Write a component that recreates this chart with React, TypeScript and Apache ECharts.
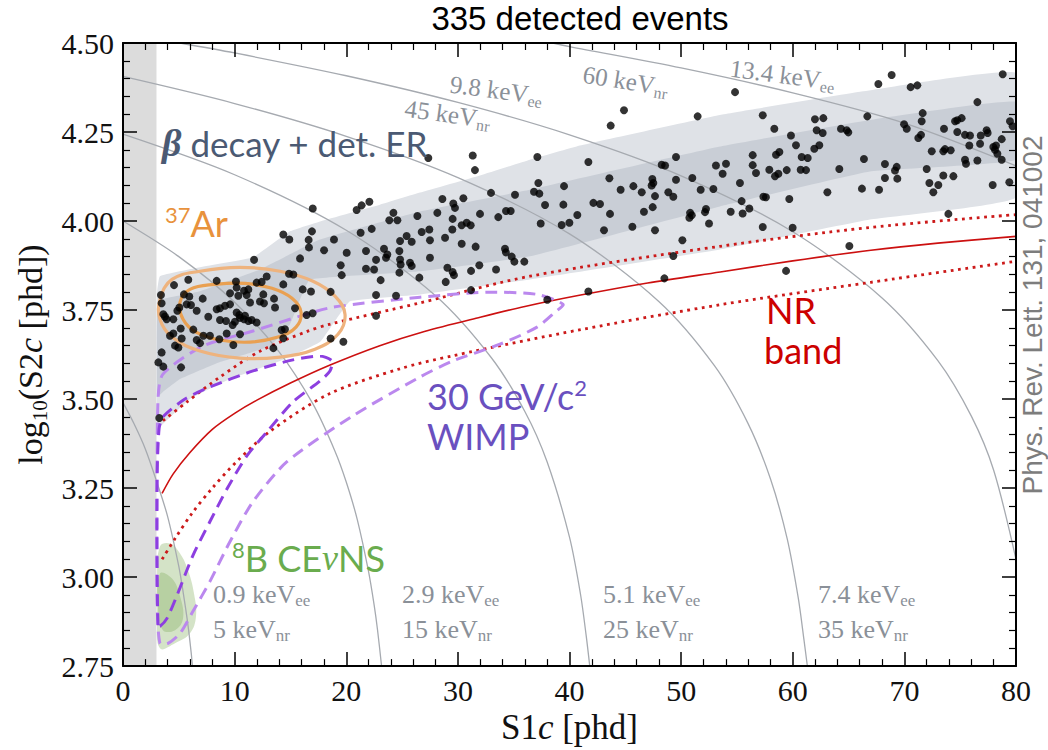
import React, { useEffect, useRef } from 'react';
import * as echarts from 'echarts';

// ---------- axes ----------
const X_MIN = 0, X_MAX = 80, X_STEP = 10;
const Y_MIN = 2.75, Y_MAX = 4.5, Y_STEP = 0.25;
const S1_THRESHOLD = 3;

// ---------- detected events (S1c, log10 S2c) ----------
const events: number[][] = [
  [14.90,3.948],[16.63,3.947],[16.66,3.926],[11.74,3.891],[15.86,3.895],[14.87,3.852],[15.26,3.850],[5.85,3.835],[8.39,3.832],[4.57,3.820],
  [10.12,3.830],[12.87,3.844],[11.97,3.827],[12.42,3.829],[14.36,3.822],[10.18,3.813],[16.10,3.808],[16.84,3.802],[3.40,3.792],[5.46,3.794],
  [9.59,3.797],[10.84,3.804],[11.23,3.808],[10.33,3.790],[11.08,3.792],[12.57,3.794],[13.53,3.782],[5.94,3.788],[3.46,3.769],[5.70,3.766],
  [6.09,3.764],[7.14,3.782],[12.27,3.774],[12.63,3.769],[11.38,3.771],[9.59,3.766],[9.14,3.762],[8.69,3.755],[8.39,3.752],[13.62,3.757],
  [15.41,3.755],[16.99,3.741],[16.45,3.736],[5.05,3.757],[4.87,3.748],[6.60,3.748],[3.61,3.738],[3.76,3.732],[10.18,3.743],[10.42,3.736],
  [7.64,3.731],[3.91,3.724],[4.51,3.724],[8.69,3.722],[9.23,3.719],[10.03,3.717],[9.82,3.708],[10.84,3.724],[11.23,3.719],[11.53,3.722],
  [11.97,3.715],[10.48,3.728],[10.93,3.734],[6.30,3.695],[5.17,3.698],[7.20,3.678],[7.79,3.678],[9.29,3.684],[10.48,3.682],[8.63,3.668],
  [4.21,3.678],[4.51,3.684],[5.26,3.670],[6.60,3.666],[6.90,3.657],[9.88,3.652],[4.66,3.650],[4.96,3.645],[14.21,3.694],[14.51,3.696],
  [14.36,3.671],[13.47,3.643],[3.46,3.631],[3.17,3.603],[3.61,3.591],[5.20,3.589],[3.25,3.447],[17.0,4.035],[16.93,3.971],[14.36,3.962],
  [31.53,4.143],[32.97,4.079],[35.12,4.074],[28.61,4.062],[29.59,4.049],[30.49,4.064],[29.74,4.037],[21.38,4.044],[20.93,4.031],[22.07,4.054],
  [24.22,4.023],[23.86,4.002],[24.58,4.002],[26.37,4.014],[28.16,4.023],[29.53,4.006],[31.98,4.020],[33.62,4.011],[34.31,4.028],[34.73,4.028],
  [21.29,3.967],[22.28,3.978],[18.90,3.948],[24.82,3.944],[25.41,3.958],[25.86,3.942],[26.76,3.969],[27.44,3.976],[27.50,3.946],[28.85,3.953],
  [29.50,3.976],[30.34,3.988],[30.79,3.995],[31.15,3.988],[30.34,3.936],[31.59,3.928],[18.01,3.918],[20.04,3.911],[21.77,3.916],[23.38,3.922],
  [23.68,3.906],[23.56,3.897],[24.76,3.916],[24.82,3.892],[24.87,3.878],[25.71,3.883],[25.86,3.874],[22.67,3.891],[21.77,3.866],[22.49,3.864],
  [19.50,3.876],[19.59,3.848],[24.76,3.855],[27.50,3.897],[34.22,3.922],[34.30,3.912],[34.82,3.900],[35.06,3.886],[29.06,3.869],[29.53,3.857],
  [29.65,3.848],[31.18,3.860],[31.92,3.876],[33.42,3.864],[26.55,3.841],[23.08,3.834],[28.91,3.829],[31.18,3.806],[22.67,3.792],[24.46,3.790],
  [18.60,3.801],[22.67,3.734],[18.60,3.670],[19.74,3.661],[27.35,4.177],[31.33,4.184],
  [44.88,4.311],[43.69,4.268],[51.48,4.294],[37.12,4.180],[41.69,4.166],[49.54,4.180],[48.26,4.158],[48.56,4.156],[53.12,4.156],[43.57,4.120],
  [37.21,4.107],[36.82,4.082],[37.30,4.077],[39.51,4.098],[44.58,4.088],[45.72,4.098],[46.47,4.081],[47.42,4.118],[47.51,4.107],[47.36,4.100],
  [49.54,4.116],[51.00,4.121],[48.85,4.081],[49.30,4.068],[51.75,4.088],[52.89,4.090],[47.66,4.070],[37.81,4.045],[39.45,4.046],[42.14,4.051],
  [42.73,4.048],[40.70,4.017],[39.99,3.995],[39.30,3.989],[37.42,3.993],[43.63,4.020],[46.67,4.026],[47.45,4.039],[50.80,4.023],[50.95,4.016],
  [50.74,4.009],[52.23,4.034],[52.14,4.025],[52.50,3.993],[45.63,3.984],[43.09,3.974],[47.66,3.974],[50.11,3.946],[49.30,3.902],[35.95,3.886],
  [48.50,3.839],[41.69,3.802],[38.01,3.779],
  [54.83,4.362],[57.31,4.297],[58.35,4.259],[61.99,4.286],[62.74,4.289],[62.14,4.255],[62.68,4.247],[64.32,4.259],[64.83,4.255],[64.98,4.249],
  [59.84,4.240],[60.29,4.213],[61.93,4.203],[62.38,4.213],[56.41,4.185],[58.50,4.186],[58.80,4.194],[60.80,4.180],[61.34,4.177],[54.02,4.161],
  [53.72,4.133],[56.41,4.157],[56.71,4.135],[57.90,4.144],[58.41,4.126],[58.71,4.133],[59.46,4.143],[60.71,4.144],[61.19,4.143],[64.17,4.146],
  [55.27,4.107],[57.37,4.068],[57.60,4.067],[59.69,4.062],[63.10,4.081],[55.42,4.056],[54.44,4.026],[55.51,4.021],[56.11,4.035],[57.31,3.983],
  [59.99,3.981],[65.07,3.930],[59.40,3.860],
  [68.86,4.410],[67.67,4.385],[70.56,4.376],[71.16,4.381],[78.81,4.412],[76.54,4.334],[66.68,4.294],[71.64,4.303],[71.55,4.280],[69.97,4.272],
  [70.21,4.259],[74.54,4.280],[74.74,4.283],[75.13,4.289],[73.55,4.259],[74.74,4.250],[75.43,4.242],[75.88,4.240],[77.37,4.255],[77.46,4.247],
  [76.84,4.240],[79.46,4.280],[79.70,4.266],[71.25,4.233],[71.49,4.242],[78.72,4.230],[72.45,4.196],[73.49,4.196],[73.64,4.202],[74.15,4.199],
  [75.82,4.212],[76.78,4.217],[77.97,4.208],[78.12,4.200],[78.33,4.189],[78.21,4.212],[66.38,4.174],[68.26,4.160],[69.31,4.152],[69.16,4.142],
  [72.00,4.146],[75.43,4.172],[75.52,4.161],[76.54,4.170],[78.72,4.172],[68.26,4.121],[69.37,4.119],[73.49,4.128],[74.39,4.126],[72.24,4.107],
  [73.04,4.101],[72.59,4.081],[66.20,4.091],[67.73,4.088],[77.91,4.101],[79.40,4.109],[73.94,4.020],
];

// ---------- ER band (beta decay + detector ER) ----------
const erOuterUpper = [[3.05,3.80],[3.31,3.845],[6.9,3.87],[11.65,3.898],[14.96,3.971],[17.65,3.999],[23.02,4.046],[26.61,4.08],[31.98,4.128],[36.46,4.172],[40.94,4.212],[53.48,4.298],[66.03,4.363],[80,4.416]];
const erOuterLower = [[3.05,3.416],[3.58,3.43],[6.0,3.50],[9.59,3.556],[14.07,3.607],[17.65,3.66],[18.99,3.719],[20.34,3.775],[26.61,3.794],[36.46,3.836],[53.48,3.92],[66.92,4.004],[80,4.066]];
const erInnerUpper = [[3.05,3.77],[3.31,3.78],[6.9,3.803],[12.27,3.864],[17.65,3.948],[26.61,4.027],[36.46,4.088],[53.48,4.209],[66.92,4.284],[80,4.335]];
const erInnerLower = [[3.05,3.506],[3.58,3.52],[5.11,3.556],[8.69,3.604],[13.17,3.649],[14.96,3.71],[15.86,3.78],[16.75,3.836],[26.61,3.859],[36.46,3.901],[53.48,4.041],[66.92,4.139],[80,4.172]];

// ---------- 37Ar contours ----------
const arOuter = [[3.31,3.78],[4.39,3.836],[6.9,3.859],[10.48,3.87],[14.07,3.859],[17.02,3.831],[18.99,3.789],[19.89,3.738],[19.26,3.682],[17.2,3.64],[14.07,3.618],[10.48,3.615],[6.9,3.635],[4.39,3.674],[3.31,3.724]];
const arInner = [[5.11,3.772],[6.0,3.808],[8.24,3.822],[10.93,3.825],[13.35,3.811],[15.14,3.783],[15.95,3.744],[15.5,3.702],[13.89,3.674],[11.38,3.66],[8.69,3.666],[6.54,3.688],[5.38,3.724]];

// ---------- 30 GeV WIMP contours ----------
const wimpInner = [[3.14,2.865],[3.05,3.052],[3.05,3.276],[3.23,3.416],[3.58,3.45],[5.55,3.50],[7.79,3.534],[11.65,3.579],[15.23,3.61],[17.65,3.621],[18.72,3.607],[18.54,3.579],[17.65,3.551],[15.23,3.492],[12.9,3.408],[11.11,3.341],[9.32,3.248],[7.79,3.156],[6.27,3.061],[4.84,2.949],[3.94,2.884],[3.31,2.862]];
const wimpOuter = [[3.31,2.814],[3.05,2.94],[3.05,3.22],[3.14,3.5],[3.58,3.57],[7.17,3.649],[11.65,3.691],[15.86,3.733],[18.81,3.758],[26.61,3.786],[32.61,3.8],[37.09,3.794],[39.42,3.766],[38.7,3.744],[37.09,3.702],[33.77,3.654],[29.56,3.607],[26.61,3.562],[20.6,3.453],[14.69,3.324],[11.65,3.212],[9.59,3.1],[7.79,2.988],[6.27,2.904],[5.11,2.842],[4.03,2.814]];

// ---------- 8B CEvNS ----------
const cevnsOuter = [[3.31,3.086],[4.21,3.094],[5.11,3.066],[5.82,3.019],[6.36,2.954],[6.54,2.89],[6.0,2.842],[4.66,2.814],[3.31,2.80],[3.05,2.884],[3.05,2.996]];
const cevnsInner = [[3.31,3.01],[4.39,2.996],[5.11,2.946],[5.38,2.884],[4.66,2.851],[3.58,2.851],[3.14,2.912]];

// ---------- NR band ----------
const nrMedian = [[3.5,3.235],[4.5,3.29],[6,3.35],[8,3.415],[10,3.46],[12,3.497],[15,3.545],[18.5,3.595],[23,3.65],[27,3.69],[32,3.73],[36,3.76],[41,3.792],[47,3.826],[53.5,3.857],[60,3.888],[67,3.918],[73,3.938],[80,3.957]];
const nrUpper = [[3.58,3.439],[5.73,3.492],[8.69,3.562],[12.3,3.635],[16.5,3.69],[18.5,3.71],[26.6,3.77],[36.46,3.845],[53.48,3.929],[66.92,3.982],[80,4.018]];
const nrLower = [[3.5,3.05],[4.7,3.11],[6.2,3.18],[8,3.25],[10.2,3.325],[13.2,3.41],[18.5,3.515],[24.8,3.585],[29.6,3.622],[41,3.695],[53.5,3.765],[67,3.828],[80,3.887]];

// ---------- energy contours ----------
const contourEe = ['0.9', '2.9', '5.1', '7.4', '9.8', '13.4'];
const contourNr = ['5', '15', '25', '35', '45', '60'];
const contourLines = [
  [[0,3.49],[1,3.43],[2,3.36],[3,3.27],[4,3.17],[5,3.03],[5.4,2.955],[5.8,2.87],[6.1,2.79],[6.25,2.74]],
  [[0,4.0],[5,3.90],[10,3.772],[14,3.632],[17,3.487],[19,3.353],[20,3.267],[21,3.16],[22,3.015],[22.5,2.921],[22.8,2.852],[23.2,2.74]],
  [[0,4.244],[10,4.13],[20,3.974],[28,3.79],[33,3.616],[36,3.465],[38,3.323],[40,3.112],[41,2.949],[41.5,2.834],[41.85,2.74]],
  [[0,4.406],[10,4.33],[20,4.238],[30,4.122],[40,3.964],[48,3.774],[53,3.593],[56,3.431],[58,3.276],[59.5,3.108],[60.5,2.94],[61,2.825],[61.35,2.74]],
  [[5.1,4.5],[10,4.472],[20,4.408],[30,4.333],[40,4.242],[50,4.127],[60,3.97],[68,3.784],[73,3.608],[76,3.452],[78,3.30],[80,3.05]],
  [[38.5,4.5],[40,4.49],[50,4.43],[60,4.36],[70,4.275],[80,4.155]],
];

const serif = "'Liberation Serif', 'Times New Roman', serif";
const sansT = "'Liberation Sans', Arial, sans-serif";
const lato = "Lato, 'Noto Sans', sans-serif";
const GREY = '#8a9098';

function polygonSeries(points: number[][], style: any, z: number, smooth = 0) {
  return {
    type: 'custom', coordinateSystem: 'cartesian2d', clip: true, silent: true, z,
    data: points, encode: { x: 0, y: 1 },
    renderItem: (params: any, api: any) => {
      if (params.dataIndex !== 0) return null;
      return { type: 'polygon', shape: { points: points.map((p) => api.coord(p)), smooth }, style };
    },
  };
}

function lineSeries(points: number[][], color: string, width: number, type: any, z: number, smooth: any = 0.3) {
  return {
    type: 'line', data: points, showSymbol: false, symbol: 'none', smooth, silent: true, clip: true, z,
    lineStyle: { color, width, type }, emphasis: { disabled: true },
  };
}

function keLabel(val: string, sub: string, x: number, y: number, rotation = 0, size = 26) {
  return {
    type: 'text', x, y, rotation, z: 60,
    style: {
      text: `{m|${val} keV}{s|${sub}}`,
      textAlign: 'left', textVerticalAlign: 'middle',
      rich: {
        m: { fontFamily: serif, fontSize: size, lineHeight: size + 4, fill: GREY, color: GREY },
        s: { fontFamily: serif, fontSize: Math.round(size * 0.65), lineHeight: Math.round(size * 0.65), verticalAlign: 'bottom', fill: GREY, color: GREY },
      },
    },
  };
}

function axisCommon(pos: string) {
  return {
    position: pos,
    axisLine: { show: true, onZero: false, lineStyle: { color: '#000', width: 2 } },
    axisTick: { show: true, inside: true, length: 14, lineStyle: { color: '#000', width: 1.5 } },
    minorTick: { show: true, splitNumber: 5, length: 7, lineStyle: { color: '#000', width: 1.2 } },
    splitLine: { show: false },
    minorSplitLine: { show: false },
    z: 30,
  };
}

export default function App() {
  const ref = useRef<HTMLDivElement>(null);
  useEffect(() => {
    const chart = echarts.init(ref.current!, null, { renderer: 'svg' });
    const series: any[] = [];
    series.push(polygonSeries([[X_MIN, Y_MIN], [S1_THRESHOLD, Y_MIN], [S1_THRESHOLD, Y_MAX], [X_MIN, Y_MAX]], { fill: '#dcdcdc' }, 1));
    series.push(polygonSeries([...erOuterUpper, ...[...erOuterLower].reverse()], { fill: '#dfe2e7' }, 2, 0.1));
    series.push(polygonSeries([...erInnerUpper, ...[...erInnerLower].reverse()], { fill: '#c9ced6' }, 3, 0.1));
    series.push(polygonSeries(cevnsOuter, { fill: '#cfe0c1', opacity: 0.9 }, 4, 0.4));
    series.push(polygonSeries(cevnsInner, { fill: '#afcb98', opacity: 0.8 }, 4, 0.4));
    contourLines.forEach((c) => series.push(lineSeries(c, '#a6aab0', 1.3, 'solid', 5, 0.3)));
    series.push(lineSeries(nrMedian, '#cc1010', 1.6, 'solid', 6, 0.3));
    series.push(lineSeries(nrUpper, '#cc1a1a', 2.8, [2.8, 4.6], 6, 0.3));
    series.push(lineSeries(nrLower, '#cc1a1a', 2.8, [2.8, 4.6], 6, 0.3));
    series.push(polygonSeries(wimpOuter, { fill: 'none', stroke: '#bb88ee', lineWidth: 3, lineDash: [12, 7] }, 7, 0.25));
    series.push(polygonSeries(wimpInner, { fill: 'none', stroke: '#8d3fe0', lineWidth: 3, lineDash: [12, 7] }, 8, 0.25));
    series.push(polygonSeries(arOuter, { fill: 'none', stroke: '#eeb37e', lineWidth: 3.2 }, 9, 0.4));
    series.push(polygonSeries(arInner, { fill: 'none', stroke: '#e9a052', lineWidth: 3.2 }, 9, 0.4));
    series.push({ type: 'scatter', data: events, symbolSize: 8, itemStyle: { color: '#000' }, z: 20, silent: true });

    const graphic: any[] = [
      { type: 'text', x: 580, y: 18, z: 60, style: { text: '335 detected events', fontFamily: sansT, fontSize: 33, fill: '#000', textAlign: 'center', textVerticalAlign: 'middle' } },
      { type: 'text', x: 1032, y: 315, rotation: Math.PI / 2, z: 60, style: { text: 'Phys. Rev. Lett. 131, 041002', fontFamily: sansT, fontSize: 28, fill: '#7d7d7d', textAlign: 'center', textVerticalAlign: 'middle' } },
      { type: 'text', x: 162, y: 143, z: 60, style: { text: '{b|β}{m| decay + det. ER}', textAlign: 'left', textVerticalAlign: 'middle',
        rich: { b: { fontFamily: serif, fontStyle: 'italic', fontWeight: 'bold', fontSize: 38, fill: '#4b5a73', color: '#4b5a73' }, m: { fontFamily: lato, fontSize: 35, fill: '#4b5a73', color: '#4b5a73' } } } },
      { type: 'text', x: 165, y: 223, z: 60, style: { text: '{s|37}{m|Ar}', textAlign: 'left', textVerticalAlign: 'middle',
        rich: { s: { fontFamily: lato, fontSize: 22, lineHeight: 22, verticalAlign: 'top', fill: '#e8923c', color: '#e8923c' }, m: { fontFamily: lato, fontSize: 36, lineHeight: 40, fill: '#e8923c', color: '#e8923c' } } } },
      { type: 'text', x: 766, y: 310, z: 60, style: { text: 'NR', fontFamily: lato, fontSize: 36, fill: '#cc0000', textAlign: 'left', textVerticalAlign: 'middle' } },
      { type: 'text', x: 764, y: 350, z: 60, style: { text: 'band', fontFamily: lato, fontSize: 36, fill: '#cc0000', textAlign: 'left', textVerticalAlign: 'middle' } },
      { type: 'text', x: 427, y: 396, z: 60, style: { text: '{m|30 GeV/c}{s|2}', textAlign: 'left', textVerticalAlign: 'middle',
        rich: { s: { fontFamily: lato, fontSize: 22, lineHeight: 22, verticalAlign: 'top', fill: '#6a50bf', color: '#6a50bf' }, m: { fontFamily: lato, fontSize: 36, lineHeight: 40, fill: '#6a50bf', color: '#6a50bf' } } } },
      { type: 'text', x: 427, y: 436, z: 60, style: { text: 'WIMP', fontFamily: lato, fontSize: 36, fill: '#6a50bf', textAlign: 'left', textVerticalAlign: 'middle' } },
      { type: 'text', x: 232, y: 558, z: 60, style: { text: '{s|8}{m|B CE}{n|ν}{m|NS}', textAlign: 'left', textVerticalAlign: 'middle',
        rich: { s: { fontFamily: lato, fontSize: 22, lineHeight: 22, verticalAlign: 'top', fill: '#6aac4e', color: '#6aac4e' }, m: { fontFamily: lato, fontSize: 36, lineHeight: 40, fill: '#6aac4e', color: '#6aac4e' }, n: { fontFamily: serif, fontStyle: 'italic', fontSize: 36, lineHeight: 40, fill: '#6aac4e', color: '#6aac4e' } } } },
      keLabel(contourEe[0], 'ee', 213, 594), keLabel(contourNr[0], 'nr', 213, 629),
      keLabel(contourEe[1], 'ee', 402, 594), keLabel(contourNr[1], 'nr', 402, 629),
      keLabel(contourEe[2], 'ee', 603, 594), keLabel(contourNr[2], 'nr', 603, 629),
      keLabel(contourEe[3], 'ee', 818, 594), keLabel(contourNr[3], 'nr', 818, 629),
      keLabel(contourEe[4], 'ee', 450, 84, -0.13, 25), keLabel(contourNr[4], 'nr', 405, 108, -0.14, 25),
      keLabel(contourNr[5], 'nr', 583, 74, -0.16, 25), keLabel(contourEe[5], 'ee', 730, 68, -0.13, 25),
    ];

    chart.setOption({
      animation: false,
      backgroundColor: '#fff',
      grid: { left: 123, right: 32, top: 43, bottom: 82, containLabel: false },
      xAxis: [
        { type: 'value', min: X_MIN, max: X_MAX, interval: X_STEP, ...axisCommon('bottom'),
          axisLabel: { show: true, margin: 9, fontFamily: serif, fontSize: 30, color: '#111', showMinLabel: true, showMaxLabel: true },
          name: 'S1{i|c} [phd]', nameLocation: 'middle', nameGap: 31,
          nameTextStyle: { fontFamily: serif, fontSize: 35, color: '#111', rich: { i: { fontFamily: serif, fontStyle: 'italic', fontSize: 35, color: '#111' } } } },
        { type: 'value', min: X_MIN, max: X_MAX, interval: X_STEP, ...axisCommon('top'), axisLabel: { show: false } },
      ],
      yAxis: [
        { type: 'value', min: Y_MIN, max: Y_MAX, interval: Y_STEP, ...axisCommon('left'),
          axisLabel: { show: true, margin: 9, fontFamily: serif, fontSize: 30, color: '#111', showMinLabel: true, showMaxLabel: true, formatter: (v: number) => v.toFixed(2) },
          name: 'log{s|10}(S2{i|c} [phd])', nameLocation: 'middle', nameRotate: 90, nameGap: 68,
          nameTextStyle: { fontFamily: serif, fontSize: 34, lineHeight: 40, color: '#111',
            rich: { s: { fontFamily: serif, fontSize: 21, lineHeight: 21, verticalAlign: 'bottom', color: '#111' }, i: { fontFamily: serif, fontStyle: 'italic', fontSize: 34, lineHeight: 40, color: '#111' } } } },
        { type: 'value', min: Y_MIN, max: Y_MAX, interval: Y_STEP, ...axisCommon('right'), axisLabel: { show: false } },
      ],
      series,
      graphic,
    });
    return () => chart.dispose();
  }, []);
  return <div ref={ref} style={{ position: 'fixed', left: 0, top: 0, width: 1048, height: 750, background: '#fff' }} />;
}
